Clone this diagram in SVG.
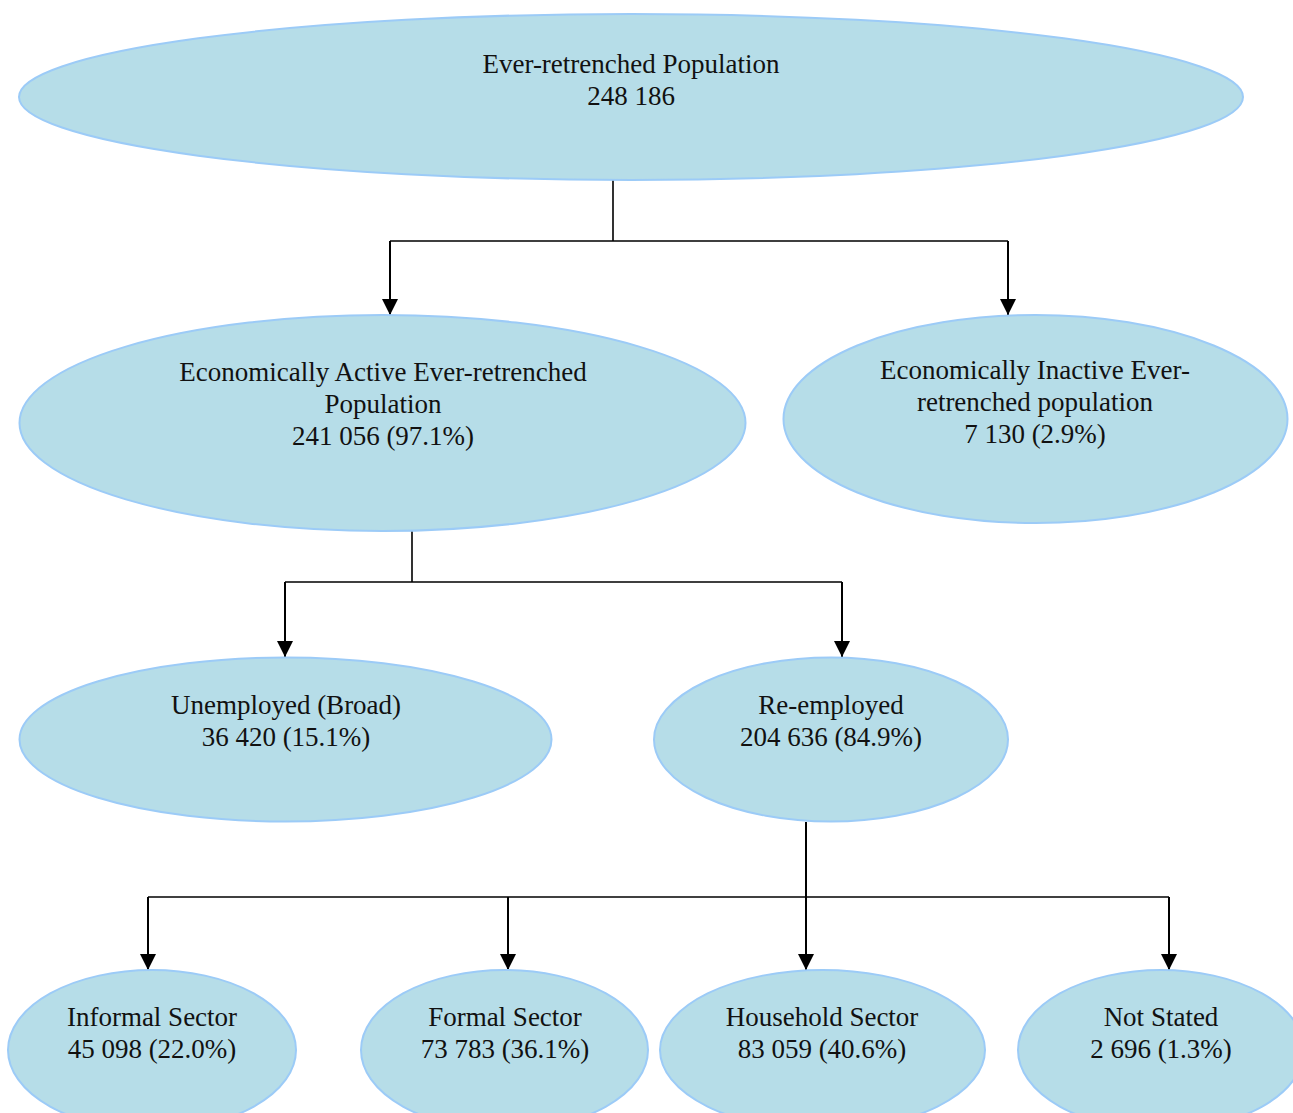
<svg xmlns="http://www.w3.org/2000/svg" width="1293" height="1113" viewBox="0 0 1293 1113">
<style>
.n{fill:#b6dde8;stroke:#9ccbf7;stroke-width:2}
.t{font-family:"Liberation Serif","Times New Roman",serif;font-size:27px;fill:#111;text-anchor:middle}
.c{fill:none;stroke:#000;stroke-width:1.6}
.a{fill:none;stroke:#000;stroke-width:2;marker-end:url(#ah)}
</style>
<defs>
<marker id="ah" markerUnits="userSpaceOnUse" markerWidth="16" markerHeight="16" viewBox="0 0 16 16" refX="16" refY="8" orient="auto">
<path d="M0,0 L16,8 L0,16 Z" fill="#000"/>
</marker>
</defs>
<rect width="1293" height="1113" fill="#fff"/>
<g id="connectors">
<path class="c" d="M613,180 V241 M390,241 H1008"/>
<path class="c" d="M412,531 V582 M285,582 H842"/>
<path class="c" d="M148,897 H1169"/>
<path class="a" d="M390,241 V315"/>
<path class="a" d="M1008,241 V315"/>
<path class="a" d="M285,582 V657"/>
<path class="a" d="M842,582 V657"/>
<path class="a" d="M806,822 V970"/>
<path class="a" d="M148,897 V970"/>
<path class="a" d="M508,897 V970"/>
<path class="a" d="M1169,897 V970"/>
</g>
<g id="n1"><ellipse class="n" cx="631" cy="97" rx="612" ry="83"/><text class="t" x="631" y="73">Ever-retrenched Population</text><text class="t" x="631" y="105">248 186</text></g>
<g id="n2"><ellipse class="n" cx="382.5" cy="423" rx="363" ry="108"/><text class="t" x="383" y="381">Economically Active Ever-retrenched</text><text class="t" x="383" y="413">Population</text><text class="t" x="383" y="445">241 056 (97.1%)</text></g>
<g id="n3"><ellipse class="n" cx="1035.5" cy="419" rx="252" ry="104"/><text class="t" x="1035" y="379">Economically Inactive Ever-</text><text class="t" x="1035" y="411">retrenched population</text><text class="t" x="1035" y="443">7 130 (2.9%)</text></g>
<g id="n4"><ellipse class="n" cx="285.5" cy="739.5" rx="266" ry="82"/><text class="t" x="286" y="714">Unemployed (Broad)</text><text class="t" x="286" y="746">36 420 (15.1%)</text></g>
<g id="n5"><ellipse class="n" cx="831" cy="739.5" rx="177" ry="82"/><text class="t" x="831" y="714">Re-employed</text><text class="t" x="831" y="746">204 636 (84.9%)</text></g>
<g id="n6"><ellipse class="n" cx="152" cy="1050" rx="144" ry="80"/><text class="t" x="152" y="1026">Informal Sector</text><text class="t" x="152" y="1058">45 098 (22.0%)</text></g>
<g id="n7"><ellipse class="n" cx="504.5" cy="1050" rx="143.5" ry="80"/><text class="t" x="505" y="1026">Formal Sector</text><text class="t" x="505" y="1058">73 783 (36.1%)</text></g>
<g id="n8"><ellipse class="n" cx="822.5" cy="1050" rx="162.5" ry="80"/><text class="t" x="822" y="1026">Household Sector</text><text class="t" x="822" y="1058">83 059 (40.6%)</text></g>
<g id="n9"><ellipse class="n" cx="1161" cy="1050" rx="143" ry="80"/><text class="t" x="1161" y="1026">Not Stated</text><text class="t" x="1161" y="1058">2 696 (1.3%)</text></g>
</svg>
